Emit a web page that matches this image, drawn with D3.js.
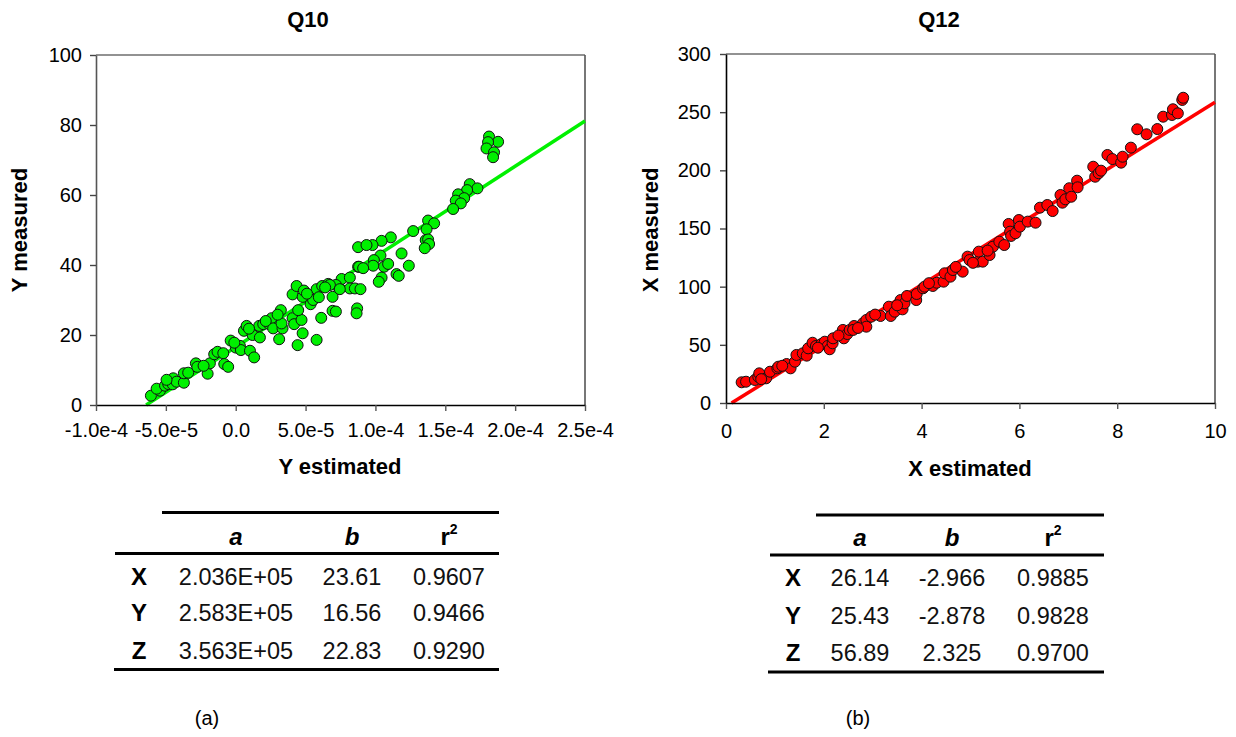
<!DOCTYPE html>
<html>
<head>
<meta charset="utf-8">
<script src="https://cdn.jsdelivr.net/npm/d3@7"></script>
<style>
  body { margin: 0; background: #fff; }
  svg { display: block; font-family: "Liberation Sans", Arial, Helvetica, sans-serif; }
</style>
</head>
<body>
<svg id="chart" width="1236" height="737"></svg>
<script>
// ---------- data ----------
// Q10: [Y estimated, Y measured]
const q10Points = [
  [-6.07e-5, 2.66], [-5.42e-5, 4.09], [-5.66e-5, 4.66], [-5.06e-5, 5.51], [-4.83e-5, 6.0],
  [-4.51e-5, 5.91], [-4.47e-5, 7.63], [-4.23e-5, 6.66], [-3.71e-5, 6.37], [-3.71e-5, 9.06],
  [-3.40e-5, 9.23], [-2.85e-5, 11.9], [-2.75e-5, 10.9], [-2.01e-5, 8.94], [-1.85e-5, 11.9],
  [-1.54e-5, 14.5], [-1.30e-5, 15.2], [-0.89e-5, 14.8], [-0.82e-5, 11.7], [-0.54e-5, 10.9],
  [-0.36e-5, 18.4], [0.01e-5, 16.4], [0.30e-5, 16.9], [0.37e-5, 15.7], [0.59e-5, 21.2],
  [0.78e-5, 22.6], [1.02e-5, 15.5], [1.21e-5, 20.0], [1.32e-5, 13.6], [1.68e-5, 22.6],
  [1.73e-5, 19.3], [1.97e-5, 23.1], [2.40e-5, 23.1], [2.57e-5, 24.8], [2.68e-5, 21.9],
  [3.11e-5, 18.8], [3.23e-5, 27.1], [3.35e-5, 21.9], [3.28e-5, 23.3], [4.07e-5, 31.6],
  [4.36e-5, 34.0], [4.07e-5, 24.8], [4.18e-5, 23.1], [4.71e-5, 24.3], [4.43e-5, 17.1],
  [4.79e-5, 20.5], [4.79e-5, 30.9], [4.88e-5, 32.7], [4.47e-5, 27.1], [5.36e-5, 28.8],
  [5.54e-5, 30.0], [5.79e-5, 18.6], [5.79e-5, 33.1], [5.95e-5, 30.8], [6.12e-5, 24.9],
  [6.19e-5, 34.0], [6.62e-5, 34.6], [6.93e-5, 30.9], [6.93e-5, 26.9], [7.17e-5, 26.7],
  [7.45e-5, 33.3], [7.58e-5, 36.0], [8.17e-5, 36.4], [8.17e-5, 33.3], [8.76e-5, 45.1],
  [8.76e-5, 39.5], [8.69e-5, 27.6], [8.65e-5, 26.2], [8.53e-5, 33.3],
  [18.13e-5, 76.7], [18.78e-5, 75.2], [18.06e-5, 75.1], [17.95e-5, 73.3], [18.49e-5, 72.2],
  [18.42e-5, 70.8], [16.75e-5, 63.1], [17.30e-5, 61.9], [16.56e-5, 61.4], [15.92e-5, 60.2],
  [16.35e-5, 59.1], [15.75e-5, 58.4], [16.11e-5, 57.6], [15.56e-5, 56.0], [13.77e-5, 52.7],
  [14.20e-5, 51.9], [13.66e-5, 50.2], [12.70e-5, 49.7], [13.60e-5, 47.1], [13.77e-5, 47.3],
  [13.84e-5, 46.0], [13.53e-5, 44.8], [11.10e-5, 47.9], [10.44e-5, 46.9], [9.79e-5, 45.7],
  [9.36e-5, 45.7], [10.36e-5, 42.7], [11.87e-5, 43.3], [9.89e-5, 41.4], [9.84e-5, 39.8],
  [8.83e-5, 39.5], [9.12e-5, 39.1], [10.62e-5, 39.5], [10.91e-5, 40.3], [12.39e-5, 39.8],
  [11.51e-5, 37.4], [11.67e-5, 36.9], [10.44e-5, 36.4], [10.24e-5, 35.2], [7.17e-5, 34.3],
  [6.74e-5, 34.3], [7.45e-5, 33.1], [8.93e-5, 33.1],
  [-4.95e-5, 7.2], [-2.30e-5, 11.2], [-0.10e-5, 17.8], [0.95e-5, 21.8], [2.15e-5, 24.0],
  [3.00e-5, 25.8], [5.10e-5, 31.8], [6.40e-5, 33.6]
];

// Q12: [X estimated, X measured]
const q12Points = [
  [0.32, 17.8], [0.41, 18.3], [0.59, 19.8], [0.66, 22.6], [0.76, 22.6], [0.68, 25.5],
  [0.82, 21.2], [0.90, 26.9], [1.05, 29.8], [1.07, 31.2], [1.24, 33.5], [1.32, 29.8],
  [1.41, 35.5], [1.44, 41.3], [1.57, 42.7], [1.65, 40.7], [1.68, 47.0], [1.77, 51.8],
  [1.84, 49.0], [1.95, 50.7], [2.02, 52.7], [2.08, 49.0], [2.12, 46.2], [2.18, 51.3],
  [2.19, 55.6], [2.39, 62.8], [2.41, 55.6], [2.48, 59.3], [2.53, 62.8], [2.62, 66.2],
  [2.60, 62.8], [2.80, 68.5], [2.87, 71.4], [2.87, 65.6], [2.97, 74.2], [3.16, 74.8],
  [3.33, 82.8], [3.37, 74.8], [3.45, 78.5], [3.57, 88.5], [3.61, 80.5], [3.65, 85.7],
  [3.70, 92.0], [3.89, 88.5], [3.90, 93.7], [4.03, 98.6], [4.06, 100.0], [4.23, 100.6],
  [4.31, 103.4], [4.45, 104.3], [4.47, 111.5], [4.59, 108.6], [4.64, 114.3], [4.84, 112.9],
  [4.94, 125.8], [4.98, 122.9], [5.15, 121.5], [5.17, 130.1], [5.25, 121.5], [5.39, 127.2],
  [5.46, 134.4], [5.59, 138.7], [5.69, 135.8], [5.78, 153.9], [5.81, 147.3], [5.83, 143.6],
  [5.92, 145.9], [5.99, 157.3], [6.01, 151.6], [6.17, 155.9], [6.33, 155.0], [6.42, 167.9],
  [6.57, 170.2], [6.68, 165.0], [6.84, 178.8], [6.88, 172.2], [6.94, 175.1], [7.02, 184.6],
  [7.06, 177.3], [7.18, 191.1], [7.19, 185.4], [7.51, 203.1], [7.55, 194.5], [7.62, 197.5],
  [7.67, 199.7], [7.80, 213.2], [7.90, 209.7], [8.08, 206.6], [8.11, 211.7], [8.28, 219.5],
  [8.41, 235.3], [8.60, 231.0], [8.82, 235.5], [8.94, 246.1], [9.12, 247.6], [9.14, 252.5],
  [9.24, 249.0], [9.33, 260.5], [9.35, 262.4],
  [0.72, 20.5], [1.15, 32.0], [1.88, 47.5], [2.30, 58.0], [2.70, 64.5], [3.05, 76.0],
  [3.50, 84.0], [4.15, 103.0], [4.70, 117.0], [5.05, 120.5], [5.35, 131.0]
];

// regression table rows
const components = ["X", "Y", "Z"];
const q10A = [2.036e5, 2.583e5, 3.563e5];
const q10B = [23.61, 16.56, 22.83];
const q10R2 = [0.9607, 0.9466, 0.9290];
const q12A = [26.14, 25.43, 56.89];
const q12B = [-2.966, -2.878, 2.325];
const q12R2 = [0.9885, 0.9828, 0.9700];

// axis ticks
const q10XTicks = [-1e-4, -5e-5, 0, 5e-5, 1e-4, 1.5e-4, 2e-4, 2.5e-4];
const q10XTickLabels = ["-1.0e-4", "-5.0e-5", "0.0", "5.0e-5", "1.0e-4", "1.5e-4", "2.0e-4", "2.5e-4"];
const q10YTicks = [0, 20, 40, 60, 80, 100];
const q12XTicks = [0, 2, 4, 6, 8, 10];
const q12YTicks = [0, 50, 100, 150, 200, 250, 300];

// ---------- drawing ----------
const svg = d3.select("#chart");

function drawPanel(cfg) {
  const g = svg.append("g");
  const x = d3.scaleLinear().domain(cfg.xDomain).range(cfg.xRange);
  const y = d3.scaleLinear().domain(cfg.yDomain).range(cfg.yRange);

  // frame: top and right edges
  g.append("line")
    .attr("x1", x.range()[0]).attr("x2", x.range()[1])
    .attr("y1", y.range()[1]).attr("y2", y.range()[1])
    .attr("stroke", "#6e6e6e").attr("stroke-width", 1.6);
  g.append("line")
    .attr("x1", x.range()[1]).attr("x2", x.range()[1])
    .attr("y1", y.range()[0]).attr("y2", y.range()[1])
    .attr("stroke", "#555").attr("stroke-width", 1.6);

  // regression line y = a*x + b, clipped to y >= 0 and the x range
  const a = cfg.slope, b = cfg.intercept;
  const xs = Math.max(cfg.xDomain[0], -b / a);
  const xe = cfg.xDomain[1];
  g.append("line")
    .attr("x1", x(xs)).attr("y1", y(a * xs + b))
    .attr("x2", x(xe)).attr("y2", y(a * xe + b))
    .attr("stroke", cfg.color).attr("stroke-width", 3.5);

  // observations
  g.append("g").selectAll("circle")
    .data(cfg.points)
    .join("circle")
    .attr("cx", d => x(d[0]))
    .attr("cy", d => y(d[1]))
    .attr("r", 5.5)
    .attr("fill", cfg.color)
    .attr("stroke", "#111")
    .attr("stroke-width", 1);

  // axes
  const xAxis = d3.axisBottom(x).tickValues(cfg.xTicks)
    .tickFormat((d, i) => cfg.xTickLabels[i])
    .tickSize(6).tickSizeOuter(0).tickPadding(cfg.xPad);
  const gx = g.append("g").attr("transform", `translate(0,${y.range()[0]})`).call(xAxis);
  gx.select(".domain").attr("stroke", "#000").attr("stroke-width", 1.6);
  gx.selectAll(".tick line").attr("stroke", "#555").attr("stroke-width", 1.4);
  gx.selectAll(".tick text").attr("font-size", 20).attr("fill", "#000")
    .style("font-family", '"Liberation Sans", Arial, sans-serif');

  const yAxis = d3.axisLeft(y).tickValues(cfg.yTicks)
    .tickSize(6).tickSizeOuter(0).tickPadding(cfg.yPad);
  const gy = g.append("g").attr("transform", `translate(${x.range()[0]},0)`).call(yAxis);
  gy.select(".domain").attr("stroke", cfg.leftAxisColor).attr("stroke-width", 1.6);
  gy.selectAll(".tick line").attr("stroke", "#444").attr("stroke-width", 1.4);
  gy.selectAll(".tick text").attr("font-size", 20).attr("fill", "#000")
    .style("font-family", '"Liberation Sans", Arial, sans-serif');

  // titles
  g.append("text").attr("x", cfg.titleX).attr("y", 27)
    .attr("text-anchor", "middle").attr("font-size", 22).attr("font-weight", "bold")
    .text(cfg.title);
  g.append("text").attr("x", cfg.xTitleX).attr("y", cfg.xTitleY)
    .attr("text-anchor", "middle").attr("font-size", 22).attr("font-weight", "bold")
    .text(cfg.xTitle);
  g.append("text")
    .attr("transform", `translate(${cfg.yTitleX},${cfg.yTitleY}) rotate(-90)`)
    .attr("text-anchor", "middle").attr("font-size", 22).attr("font-weight", "bold")
    .text(cfg.yTitle);
}

function drawTable(cfg) {
  const g = svg.append("g");
  const rule = (x1, x2, yy) => g.append("line")
    .attr("x1", x1).attr("x2", x2).attr("y1", yy).attr("y2", yy)
    .attr("stroke", "#000").attr("stroke-width", 3);
  rule(cfg.topRule[0], cfg.topRule[1], cfg.topRule[2]);
  rule(cfg.midRule[0], cfg.midRule[1], cfg.midRule[2]);
  rule(cfg.botRule[0], cfg.botRule[1], cfg.botRule[2]);

  const fs = 24;
  const base = c => c + fs * 0.36;
  // header
  ["a", "b"].forEach((h, i) => {
    g.append("text").attr("x", cfg.cols[i + 1]).attr("y", base(cfg.headerY))
      .attr("text-anchor", "middle").attr("font-size", fs)
      .attr("font-weight", "bold").attr("font-style", "italic").text(h);
  });
  const r2 = g.append("text").attr("x", cfg.cols[3]).attr("y", base(cfg.headerY))
    .attr("text-anchor", "middle").attr("font-size", fs).attr("font-weight", "bold");
  r2.append("tspan").text("r");
  r2.append("tspan").attr("font-size", 14).attr("dy", -11).text("2");

  // body
  components.forEach((c, i) => {
    const yy = base(cfg.rowsY[i]);
    g.append("text").attr("x", cfg.cols[0]).attr("y", yy)
      .attr("text-anchor", "middle").attr("font-size", fs).attr("font-weight", "bold").text(c);
    [cfg.fmtA(cfg.a[i]), cfg.fmtB(cfg.b[i]), cfg.r2[i].toFixed(4)].forEach((t, j) => {
      g.append("text").attr("x", cfg.cols[j + 1]).attr("y", yy)
        .attr("text-anchor", "middle").attr("font-size", 23.5).attr("fill", "#111").text(t);
    });
  });

  g.append("text").attr("x", cfg.captionX).attr("y", 725)
    .attr("text-anchor", "middle").attr("font-size", 20).text(cfg.caption);
}

// scientific notation like 2.036E+05
function sci(v) {
  const e = Math.floor(Math.log10(Math.abs(v)));
  const m = v / Math.pow(10, e);
  const sign = e < 0 ? "-" : "+";
  return m.toFixed(3) + "E" + sign + String(Math.abs(e)).padStart(2, "0");
}

drawPanel({
  points: q10Points, color: "#00f000",
  xDomain: [-1e-4, 2.5e-4], xRange: [96, 585],
  yDomain: [0, 100], yRange: [405, 55],
  xTicks: q10XTicks, xTickLabels: q10XTickLabels, yTicks: q10YTicks,
  xPad: 12, yPad: 8, leftAxisColor: "#555",
  slope: q10A[1], intercept: q10B[1],
  title: "Q10", titleX: 308,
  xTitle: "Y estimated", xTitleX: 340, xTitleY: 474,
  yTitle: "Y measured", yTitleX: 27, yTitleY: 230
});

drawPanel({
  points: q12Points, color: "#ff0000",
  xDomain: [0, 10], xRange: [726, 1215],
  yDomain: [0, 300], yRange: [403, 54],
  xTicks: q12XTicks, xTickLabels: q12XTicks.map(String), yTicks: q12YTicks,
  xPad: 15, yPad: 9, leftAxisColor: "#000",
  slope: q12A[0], intercept: q12B[0],
  title: "Q12", titleX: 939,
  xTitle: "X estimated", xTitleX: 970, xTitleY: 476,
  yTitle: "X measured", yTitleX: 658, yTitleY: 230
});

drawTable({
  a: q10A, b: q10B, r2: q10R2,
  fmtA: sci, fmtB: v => v.toFixed(2),
  cols: [139, 236, 352, 449],
  headerY: 536, rowsY: [576, 612, 650],
  topRule: [162, 499, 512.5], midRule: [115, 499, 553.5], botRule: [114, 499, 669.5],
  caption: "(a)", captionX: 207
});

drawTable({
  a: q12A, b: q12B, r2: q12R2,
  fmtA: v => v.toFixed(2), fmtB: v => v.toFixed(3),
  cols: [793, 860, 952, 1053],
  headerY: 537, rowsY: [577, 615, 652],
  topRule: [816, 1104, 515], midRule: [770, 1104, 555], botRule: [768, 1104, 672],
  caption: "(b)", captionX: 858
});
</script>
</body>
</html>
